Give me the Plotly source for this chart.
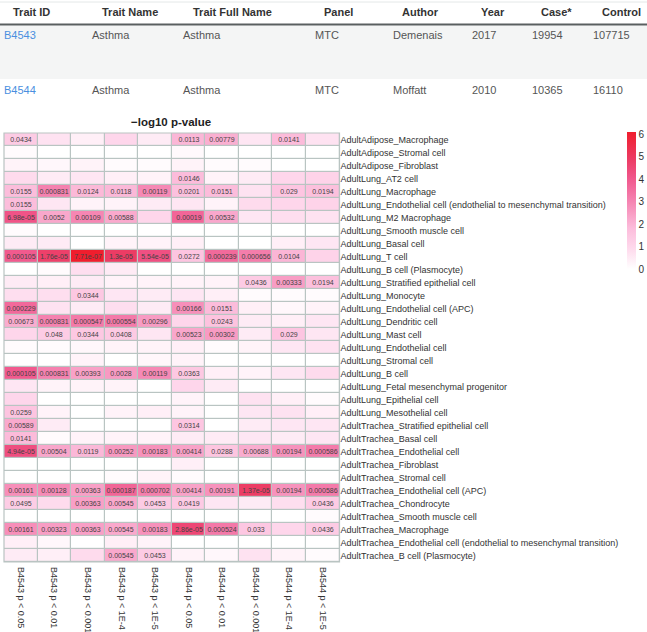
import plotly.graph_objects as go
import math

W, H = 647, 632

# ---------------- table data ----------------
table_headers = ["Trait ID", "Trait Name", "Trait Full Name", "Panel", "Author", "Year", "Case*", "Control"]
trait_ids = ["B4543", "B4544"]
trait_names = ["Asthma", "Asthma"]
trait_full_names = ["Asthma", "Asthma"]
panels = ["MTC", "MTC"]
authors = ["Demenais", "Moffatt"]
years = ["2017", "2010"]
cases = ["19954", "10365"]
controls = ["107715", "16110"]

# ---------------- heatmap data ----------------
cell_types = [
    "AdultAdipose_Macrophage", "AdultAdipose_Stromal cell", "AdultAdipose_Fibroblast",
    "AdultLung_AT2 cell", "AdultLung_Macrophage",
    "AdultLung_Endothelial cell (endothelial to mesenchymal transition)",
    "AdultLung_M2 Macrophage", "AdultLung_Smooth muscle cell", "AdultLung_Basal cell",
    "AdultLung_T cell", "AdultLung_B cell (Plasmocyte)", "AdultLung_Stratified epithelial cell",
    "AdultLung_Monocyte", "AdultLung_Endothelial cell (APC)", "AdultLung_Dendritic cell",
    "AdultLung_Mast cell", "AdultLung_Endothelial cell", "AdultLung_Stromal cell",
    "AdultLung_B cell", "AdultLung_Fetal mesenchymal progenitor", "AdultLung_Epithelial cell",
    "AdultLung_Mesothelial cell", "AdultTrachea_Stratified epithelial cell",
    "AdultTrachea_Basal cell", "AdultTrachea_Endothelial cell", "AdultTrachea_Fibroblast",
    "AdultTrachea_Stromal cell", "AdultTrachea_Endothelial cell (APC)",
    "AdultTrachea_Chondrocyte", "AdultTrachea_Smooth muscle cell", "AdultTrachea_Macrophage",
    "AdultTrachea_Endothelial cell (endothelial to mesenchymal transition)",
    "AdultTrachea_B cell (Plasmocyte)",
]

column_labels = ["B4543 p < 0.05", "B4543 p < 0.01", "B4543 p < 0.001", "B4543 p < 1E-4", "B4543 p < 1E-5",
                 "B4544 p < 0.05", "B4544 p < 0.01", "B4544 p < 0.001", "B4544 p < 1E-4", "B4544 p < 1E-5"]

# p-values per column (top row to bottom row)
p_B4543_005 = [0.0434, 0.8, 0.5, 0.13, 0.0155, 0.0155, 6.98e-05, 0.8, 0.32, 0.000105, 1, 0.32, 0.16,
               0.000229, 0.00673, 0.1, 0.8, 1, 0.000105, 0.25, 0.1, 0.0259, 0.00589, 0.0141, 4.94e-05,
               1, 1, 0.00161, 0.0495, 1, 0.00161, 0.4, 0.32]
p_B4543_001 = [0.2, 1, 0.63, 0.32, 0.000831, 0.25, 0.0052, 1, 0.32, 1.76e-05, 0.8, 0.4, 0.16, 0.2,
               0.000831, 0.048, 0.8, 1, 0.000831, 0.5, 1, 0.5, 0.32, 0.8, 0.00504, 1, 1, 0.00128,
               0.13, 1, 0.00323, 0.63, 0.4]
p_B4543_0001 = [0.4, 1, 0.5, 0.25, 0.0124, 0.5, 0.00109, 1, 1, 7.71e-07, 0.16, 0.32, 0.0344, 0.32,
                0.000547, 0.0344, 0.63, 0.5, 0.00393, 0.5, 1, 1, 1, 0.5, 0.0119, 1, 1, 0.00363,
                0.00363, 1, 0.00363, 1, 0.13]
p_B4543_1e4 = [0.1, 1, 0.8, 0.4, 0.0118, 0.5, 0.00588, 1, 0.5, 1.3e-05, 0.32, 0.5, 0.25, 0.16,
               0.000554, 0.0408, 0.5, 1, 0.0028, 0.5, 1, 0.5, 1, 0.5, 0.00252, 1, 0.8, 0.000187,
               0.00545, 1, 0.00545, 0.4, 0.00545]
p_B4543_1e5 = [0.32, 1, 0.8, 0.5, 0.00119, 0.32, 0.1, 1, 0.5, 5.54e-05, 1, 0.5, 0.32, 0.32, 0.00296,
               0.25, 0.5, 0.63, 0.00119, 1, 1, 0.4, 1, 0.5, 0.00183, 1, 0.5, 0.000702, 0.0453, 1,
               0.00183, 0.5, 0.0453]
p_B4544_005 = [0.0113, 0.7, 0.5, 0.0146, 0.0201, 0.25, 0.00019, 1, 0.4, 0.0272, 1, 0.5, 0.25, 0.00166,
               0.1, 0.00523, 0.4, 0.5, 0.0363, 0.1, 0.5, 0.5, 0.0314, 0.32, 0.00414, 0.4, 0.8,
               0.00414, 0.0419, 1, 2.86e-05, 1, 0.5]
p_B4544_001 = [0.00779, 1, 0.8, 0.5, 0.0151, 0.5, 0.00532, 1, 1, 0.000239, 1, 0.5, 0.4, 0.0151, 0.0243,
               0.00302, 0.8, 1, 0.4, 0.32, 1, 1, 1, 0.32, 0.0288, 1, 1, 0.00191, 0.25, 1, 0.000524,
               1, 0.63]
p_B4544_0001 = [0.25, 1, 0.8, 0.32, 0.2, 0.13, 0.25, 1, 1, 0.000656, 1, 0.0436, 0.8, 0.4, 0.32, 0.32,
                0.5, 1, 0.5, 1, 0.2, 0.25, 0.32, 0.25, 0.00688, 1, 1, 1.37e-05, 0.32, 1, 0.033, 1, 0.2]
p_B4544_1e4 = [0.0141, 1, 1, 0.1, 0.029, 0.1, 0.16, 1, 0.4, 0.0104, 1, 0.00333, 0.8, 0.63, 0.4, 0.029,
               0.25, 1, 0.25, 1, 0.4, 0.2, 0.25, 0.32, 0.00194, 1, 1, 0.00194, 0.16, 1, 0.1, 1, 0.5]
p_B4544_1e5 = [0.2, 1, 1, 0.08, 0.0194, 0.08, 0.2, 1, 0.25, 0.08, 1, 0.0194, 0.8, 0.5, 0.25, 0.25, 0.2,
               1, 0.13, 1, 0.8, 0.4, 0.25, 0.25, 0.000586, 1, 1, 0.000586, 0.0436, 0.8, 0.0436, 1, 0.8]

columns = [p_B4543_005, p_B4543_001, p_B4543_0001, p_B4543_1e4, p_B4543_1e5,
           p_B4544_005, p_B4544_001, p_B4544_0001, p_B4544_1e4, p_B4544_1e5]
for c in columns:
    assert len(c) == len(cell_types)

nrow = len(cell_types)
z = [[-math.log10(columns[j][i]) for j in range(len(columns))] for i in range(nrow)]
text = [[("{:.3g}".format(columns[j][i]) if columns[j][i] < 0.05 else "") for j in range(len(columns))]
        for i in range(nrow)]
zmax = max(max(r) for r in z)


def X(px):
    return px / W


def Y(py):
    return 1 - py / H


colorscale = [[0.0, "#ffffff"], [0.16, "#fed7eb"], [0.3, "#fcbcdb"], [0.5, "#f582b0"],
              [0.67, "#f0558a"], [0.8, "#ec3c64"], [1.0, "#f01e2d"]]

font_family = "Liberation Sans, Arial, sans-serif"

fig = go.Figure()
fig.add_trace(go.Heatmap(
    z=z, x=column_labels, y=cell_types, text=text, texttemplate="%{text}",
    textfont=dict(size=7, color="#444444", family=font_family),
    colorscale=colorscale, zmin=0, zmax=zmax, xgap=1.2, ygap=1.2,
    hoverinfo="skip",
    colorbar=dict(
        x=X(627), xanchor="left", xref="paper", y=Y(132), yanchor="top", yref="paper",
        lenmode="pixels", len=137, thickness=9, xpad=0, ypad=0, outlinewidth=0,
        tickvals=[0, 1, 2, 3, 4, 5, 6], ticks="", ticklabelposition="outside",
        tickfont=dict(size=10, color="#333333", family=font_family),
    ),
))

fig.update_layout(
    width=W, height=H, margin=dict(l=0, r=0, t=0, b=0),
    paper_bgcolor="white", plot_bgcolor="#b9c4c2",
    font=dict(family=font_family),
    xaxis=dict(domain=[X(4), X(339.5)], side="bottom", tickangle=90, ticks="", showgrid=False,
               zeroline=False, automargin=False, ticklabelstandoff=4,
               tickfont=dict(size=9, color="#333333", family=font_family)),
    yaxis=dict(domain=[Y(562), Y(133)], side="right", autorange="reversed", ticks="", showgrid=False,
               zeroline=False, automargin=False,
               tickfont=dict(size=9, color="#333333", family=font_family)),
)

# border around the heatmap
fig.add_shape(type="rect", xref="paper", yref="paper", x0=X(4), x1=X(339.5), y0=Y(562), y1=Y(133),
              line=dict(color="#b9c4c2", width=1.2), fillcolor="rgba(0,0,0,0)")

# heatmap title
fig.add_annotation(text="<b>\u2212log10 p-value</b>", x=X(171), y=Y(122), xref="paper", yref="paper",
                   showarrow=False, xanchor="center", yanchor="middle",
                   font=dict(size=11.5, color="#222222", family=font_family))

# ---------------- table ----------------
fig.add_shape(type="line", xref="paper", yref="paper", x0=0, x1=1, y0=Y(2), y1=Y(2),
              line=dict(color="#e4e8e8", width=1))
fig.add_shape(type="rect", xref="paper", yref="paper", x0=0, x1=1, y0=Y(79), y1=Y(25.5),
              fillcolor="#f4f5f5", line=dict(width=0), layer="below")
fig.add_shape(type="line", xref="paper", yref="paper", x0=0, x1=1, y0=Y(24.5), y1=Y(24.5),
              line=dict(color="#5a5f60", width=2))

header_x = [11, 100, 191, 322, 400, 479, 539, 600]
body_x = [2, 90, 181, 313, 391, 470, 530, 591]
for h, hx in zip(table_headers, header_x):
    fig.add_annotation(text="<b>" + h + "</b>", x=X(hx), y=Y(12.5), xref="paper", yref="paper",
                       showarrow=False, xanchor="left", yanchor="middle",
                       font=dict(size=11, color="#333333", family=font_family))

rows_y = [35, 90]
body_cols = [trait_ids, trait_names, trait_full_names, panels, authors, years, cases, controls]
for r, ry in enumerate(rows_y):
    for c, (col, bx) in enumerate(zip(body_cols, body_x)):
        color = "#4a8fe0" if c == 0 else "#555555"
        fig.add_annotation(text=col[r], x=X(bx), y=Y(ry), xref="paper", yref="paper",
                           showarrow=False, xanchor="left", yanchor="middle",
                           font=dict(size=11, color=color, family=font_family))

fig.write_html("out.html", config={"displayModeBar": False},
               post_script="document.body.style.margin='0';document.body.style.overflow='hidden';")
